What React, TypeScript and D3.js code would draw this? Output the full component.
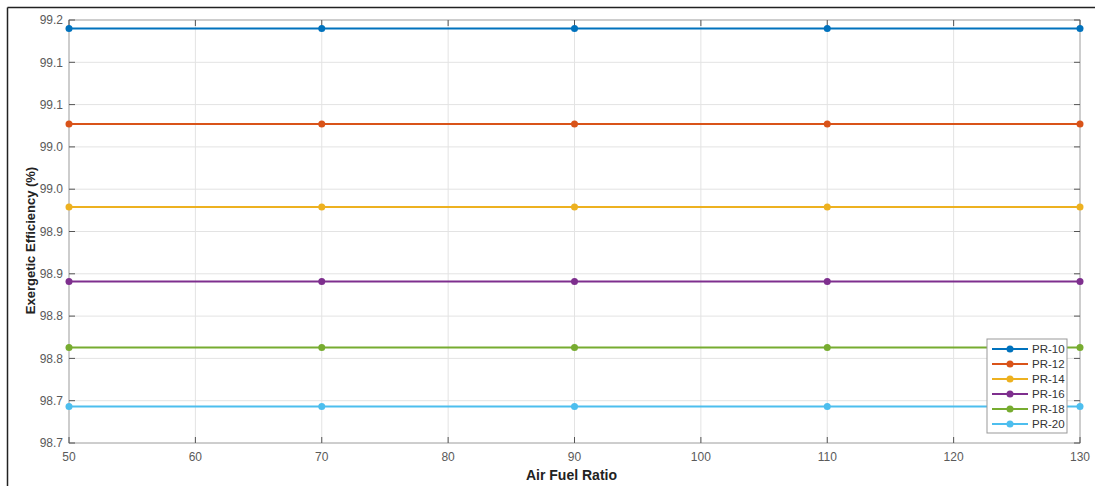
import { useEffect, useRef } from 'react';
import * as d3 from 'd3';

const airFuel = [50, 70, 90, 110, 130];
const seriesNames = ['PR-10', 'PR-12', 'PR-14', 'PR-16', 'PR-18', 'PR-20'];
const seriesValues = [
  [99.19, 99.19, 99.19, 99.19, 99.19],
  [99.077, 99.077, 99.077, 99.077, 99.077],
  [98.979, 98.979, 98.979, 98.979, 98.979],
  [98.891, 98.891, 98.891, 98.891, 98.891],
  [98.813, 98.813, 98.813, 98.813, 98.813],
  [98.743, 98.743, 98.743, 98.743, 98.743],
];
const colors = ['#0072BD', '#D95319', '#EDB120', '#7E2F8E', '#77AC30', '#4DBEEE'];
const yTicks = [98.7, 98.75, 98.8, 98.85, 98.9, 98.95, 99.0, 99.05, 99.1, 99.15, 99.2];
const yTickLabels = ['98.7', '98.7', '98.8', '98.8', '98.9', '98.9', '99.0', '99.0', '99.1', '99.1', '99.2'];
const xTicks = [50, 60, 70, 80, 90, 100, 110, 120, 130];

const App = () => {
  const svgRef = useRef(null);

  useEffect(() => {
    const width = 1095;
    const height = 486;
    const margin = { top: 20, right: 15, bottom: 43, left: 69 };
    const w = width - margin.left - margin.right;
    const h = height - margin.top - margin.bottom;
    const font = '"Liberation Sans", Arial, sans-serif';

    const root = d3.select(svgRef.current);
    root.selectAll('*').remove();
    root.attr('width', width).attr('height', height);

    root.append('rect').attr('width', width).attr('height', height).attr('fill', '#fff');
    // outer frame, top and left edges only
    root.append('line').attr('x1', 7.5).attr('x2', width).attr('y1', 7.5).attr('y2', 7.5)
      .attr('stroke', '#222').attr('stroke-width', 1.5);
    root.append('line').attr('x1', 7.5).attr('x2', 7.5).attr('y1', 7.5).attr('y2', height)
      .attr('stroke', '#222').attr('stroke-width', 1.5);

    const svg = root.append('g').attr('transform', `translate(${margin.left},${margin.top})`);

    const x = d3.scaleLinear().domain([50, 130]).range([0, w]);
    const y = d3.scaleLinear().domain([98.7, 99.2]).range([h, 0]);

    // grid
    svg.append('g').selectAll('line').data(xTicks).enter().append('line')
      .attr('x1', d => x(d)).attr('x2', d => x(d)).attr('y1', 0).attr('y2', h)
      .attr('stroke', '#e3e3e3').attr('stroke-width', 1);
    svg.append('g').selectAll('line').data(yTicks).enter().append('line')
      .attr('x1', 0).attr('x2', w).attr('y1', d => y(d)).attr('y2', d => y(d))
      .attr('stroke', '#e3e3e3').attr('stroke-width', 1);

    // box
    svg.append('rect').attr('width', w).attr('height', h).attr('fill', 'none')
      .attr('stroke', '#aaa').attr('stroke-width', 1);

    // inward ticks
    const tickLen = 6;
    svg.append('g').selectAll('line').data(xTicks).enter().append('line')
      .attr('x1', d => x(d)).attr('x2', d => x(d)).attr('y1', h).attr('y2', h - tickLen)
      .attr('stroke', '#555');
    svg.append('g').selectAll('line').data(xTicks).enter().append('line')
      .attr('x1', d => x(d)).attr('x2', d => x(d)).attr('y1', 0).attr('y2', tickLen)
      .attr('stroke', '#555');
    svg.append('g').selectAll('line').data(yTicks).enter().append('line')
      .attr('x1', 0).attr('x2', tickLen).attr('y1', d => y(d)).attr('y2', d => y(d))
      .attr('stroke', '#555');
    svg.append('g').selectAll('line').data(yTicks).enter().append('line')
      .attr('x1', w).attr('x2', w - tickLen).attr('y1', d => y(d)).attr('y2', d => y(d))
      .attr('stroke', '#555');

    // tick labels
    svg.append('g').selectAll('text').data(xTicks).enter().append('text')
      .attr('x', d => x(d)).attr('y', h + 18).attr('text-anchor', 'middle')
      .attr('font-family', font).attr('font-size', 12).attr('fill', '#5a5a5a')
      .text(d => d);
    svg.append('g').selectAll('text').data(yTicks).enter().append('text')
      .attr('x', -6).attr('y', d => y(d)).attr('dy', '0.35em').attr('text-anchor', 'end')
      .attr('font-family', font).attr('font-size', 12).attr('fill', '#5a5a5a')
      .text((d, i) => yTickLabels[i]);

    // axis titles
    svg.append('text').attr('x', w / 2 - 3).attr('y', h + 37).attr('text-anchor', 'middle')
      .attr('font-family', font).attr('font-size', 14).attr('font-weight', 'bold').attr('fill', '#222')
      .text('Air Fuel Ratio');
    svg.append('text').attr('transform', `translate(${30 - margin.left},${h / 2 + 9}) rotate(-90)`)
      .attr('text-anchor', 'middle').attr('dy', '0.35em')
      .attr('font-family', font).attr('font-size', 13).attr('font-weight', 'bold').attr('fill', '#222')
      .text('Exergetic Efficiency (%)');

    // lines with markers
    const line = d3.line<number>().x((d, i) => x(airFuel[i])).y(d => y(d));
    seriesValues.forEach((vals, s) => {
      svg.append('path').datum(vals).attr('d', line).attr('fill', 'none')
        .attr('stroke', colors[s]).attr('stroke-width', 2);
      svg.append('g').selectAll('circle').data(vals).enter().append('circle')
        .attr('cx', (d, i) => x(airFuel[i])).attr('cy', d => y(d)).attr('r', 3.5)
        .attr('fill', colors[s]);
    });

    // legend
    const lg = root.append('g').attr('transform', 'translate(987,339)');
    lg.append('rect').attr('width', 80).attr('height', 94).attr('fill', '#fff')
      .attr('stroke', '#999').attr('stroke-width', 1);
    seriesNames.forEach((name, i) => {
      const yy = 10 + i * 15;
      lg.append('line').attr('x1', 5).attr('x2', 41).attr('y1', yy).attr('y2', yy)
        .attr('stroke', colors[i]).attr('stroke-width', 2);
      lg.append('circle').attr('cx', 23).attr('cy', yy).attr('r', 3.5).attr('fill', colors[i]);
      lg.append('text').attr('x', 45).attr('y', yy).attr('dy', '0.35em')
        .attr('font-family', font).attr('font-size', 11.5).attr('fill', '#333')
        .text(name);
    });
  }, []);

  return (
    <div style={{ position: 'absolute', left: 0, top: 0 }}>
      <svg ref={svgRef} style={{ display: 'block' }}></svg>
    </div>
  );
};

export default App;
